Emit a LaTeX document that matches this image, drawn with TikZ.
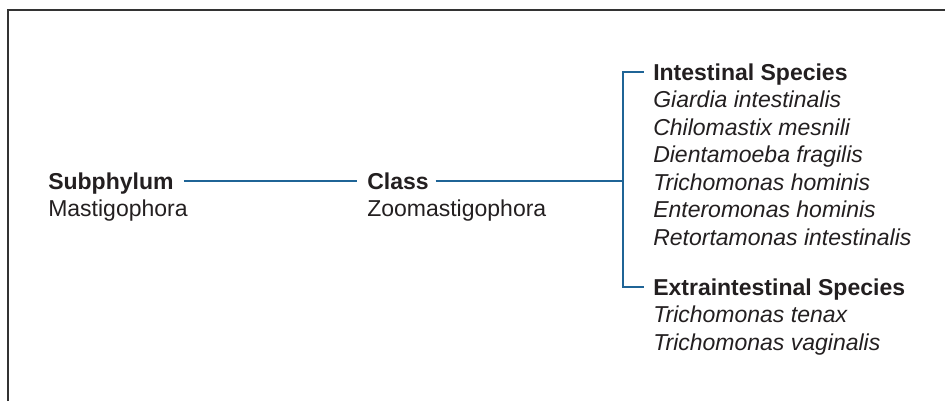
\documentclass[tikz,border=0pt]{standalone}
\usepackage{fontspec}
\setmainfont{Liberation Sans}
\usetikzlibrary{positioning}

\definecolor{linkblue}{HTML}{1F6496}
\definecolor{inkgray}{HTML}{231F20}
\definecolor{framegray}{HTML}{333333}

\tikzset{
  taxon/.style = {font=\fontsize{17.25}{20.6}\selectfont\bfseries, text=inkgray,
                  inner sep=0pt, text height=12.4pt, text depth=0pt, anchor=west},
  taxname/.style = {font=\fontsize{17.25}{20.6}\selectfont, text=inkgray,
                    inner sep=0pt, anchor=base west},
  species/.style = {taxname, font=\fontsize{17.25}{20.6}\selectfont\itshape},
  link/.style = {draw=linkblue, line width=1.2pt},
}

\begin{document}
\begin{tikzpicture}[x=0.75pt, y=-0.75pt]

  \useasboundingbox (0,0) rectangle (945,401);
  \draw[framegray, line width=1.3pt] (8,401) -- (8,10) -- (945,10);

  % subphylum and class
  \node[taxon] (sub) at (48,181) {Subphylum};
  \node[taxname] (mast) at ([yshift=-20.6pt]sub.base west) {Mastigophora};

  \node[taxon] (cls) at (367,181) {Class};
  \node[taxname] (zoo) at ([yshift=-20.6pt]cls.base west) {Zoomastigophora};

  % species groups
  \node[taxon] (intest) at (653,72) {Intestinal Species};
  \foreach \sp [count=\i] in {Giardia intestinalis, Chilomastix mesnili,
      Dientamoeba fragilis, Trichomonas hominis, Enteromonas hominis,
      Retortamonas intestinalis}
    \node[species] (int\i) at ([yshift=-\i*20.6pt]intest.base west) {\sp};

  \node[taxon] (extra) at (653,287) {Extraintestinal Species};
  \foreach \sp [count=\i] in {Trichomonas tenax, Trichomonas vaginalis}
    \node[species] (ext\i) at ([yshift=-\i*20.6pt]extra.base west) {\sp};

  \coordinate (fork) at (623,181);

  % connectors
  \draw[link] ([xshift=7.5pt]sub.east) -- ([xshift=-7.5pt]cls.west);
  \draw[link] ([xshift=5pt]cls.east) -- (fork);
  \draw[link] ([xshift=-7pt]intest.west) -| (fork |- extra.west)
    -- ([xshift=-7pt]extra.west);

\end{tikzpicture}
\end{document}
